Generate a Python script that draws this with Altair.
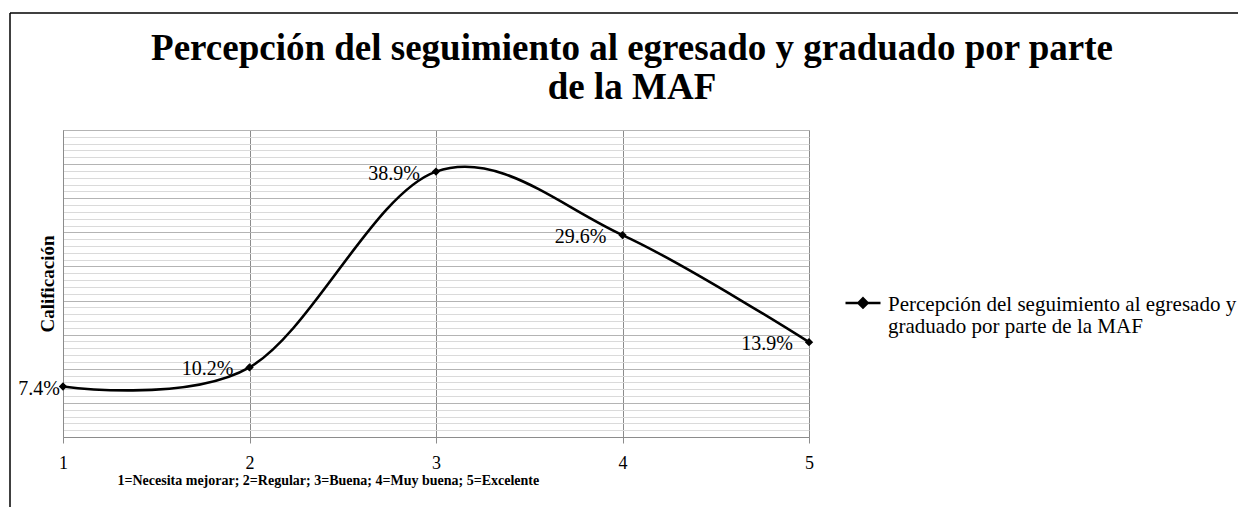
import json
import altair as alt
import pandas as pd

# ---- data ----
x_vals = [1, 2, 3, 4, 5]
y_vals = [7.4, 10.2, 38.9, 29.6, 13.9]
labels = ["7.4%", "10.2%", "38.9%", "29.6%", "13.9%"]
series_name = "Percepción del seguimiento al egresado y graduado por parte de la MAF"
legend_lines = ["Percepción del seguimiento al egresado y", "graduado por parte de la MAF"]
title_lines = ["Percepción del seguimiento al egresado y graduado por parte", "de la MAF"]
x_title = "1=Necesita mejorar;  2=Regular; 3=Buena; 4=Muy buena; 5=Excelente"
y_title = "Calificación"
y_grid = list(range(0, 46))

df = pd.DataFrame({"x": x_vals, "y": y_vals, "label": labels, "serie": [series_name] * len(x_vals)})

SERIF = "Liberation Serif"
W, H = 746, 307

xenc = alt.X(
    "x:Q",
    scale=alt.Scale(domain=[1, 5], nice=False, zero=False),
    axis=alt.Axis(
        values=x_vals, format="d", title=x_title, grid=True, gridColor="#8c8c8c", gridWidth=1,
        domainColor="#8c8c8c", tickColor="#8c8c8c", tickSize=6, labelFlush=False,
        labelFont=SERIF, labelFontSize=18, labelColor="#000000", labelPadding=11,
        titleFont=SERIF, titleFontSize=14, titleFontWeight="bold", titleColor="#000000",
        titleX=54, titleY=47, titleAlign="left", titleBaseline="alphabetic",
    ),
)
yenc = alt.Y(
    "y:Q",
    scale=alt.Scale(domain=[0, 45], nice=False, zero=True),
    axis=alt.Axis(
        values=y_grid, labels=False, ticks=False, grid=True,
        gridColor=alt.condition("datum.value % 5 === 0", alt.value("#b4b4b4"), alt.value("#dadada")),
        gridWidth=1, domainColor="#8c8c8c",
        title=y_title, titleFont=SERIF, titleFontSize=19, titleFontWeight="bold", titleColor="#000000",
        titleAngle=270, titleX=-10, titleY=H / 2, titleAlign="center", titleBaseline="alphabetic",
    ),
)

legend_expr = json.dumps(legend_lines, ensure_ascii=False)

base = alt.Chart(df).encode(x=xenc, y=yenc)

line = base.mark_line(interpolate="cardinal", strokeWidth=2.6).encode(
    color=alt.Color(
        "serie:N",
        scale=alt.Scale(range=["#000000"]),
        legend=alt.Legend(
            title=None, orient="none", legendX=781, legendY=162, padding=0,
            symbolType="M-1,-0.46L1,-0.46M0,-0.72L0.26,-0.46L0,-0.2L-0.26,-0.46Z",
            symbolSize=1225, symbolStrokeWidth=2.6,
            symbolFillColor="#000000", symbolStrokeColor="#000000",
            labelFont=SERIF, labelFontSize=21, labelColor="#000000", labelLimit=420,
            labelOffset=6, labelBaseline="alphabetic", labelExpr=legend_expr,
        ),
    ),
)

points = base.mark_point(shape="diamond", filled=True, size=70, color="#000000", opacity=1)

text_first = base.transform_filter("datum.x == 1").mark_text(
    align="right", baseline="middle", dx=-3, dy=2, font=SERIF, fontSize=20, color="#000000"
).encode(text="label:N")

text_rest = base.transform_filter("datum.x != 1").mark_text(
    align="right", baseline="middle", dx=-16, dy=2, font=SERIF, fontSize=20, color="#000000"
).encode(text="label:N")

frame_df = pd.DataFrame({"k": [0]})
frame_v = alt.Chart(frame_df).mark_rule(color="#000000", strokeWidth=1.5).encode(
    x=alt.value(-53), y=alt.value(-117), y2=alt.value(600)
)
frame_h = alt.Chart(frame_df).mark_rule(color="#000000", strokeWidth=1.5).encode(
    x=alt.value(-53), x2=alt.value(1400), y=alt.value(-117)
)

chart = alt.layer(line, points, text_first, text_rest, frame_v, frame_h).properties(
    width=W,
    height=H,
    title=alt.TitleParams(
        text=title_lines, font=SERIF, fontSize=37, fontWeight="bold", color="#000000",
        anchor="middle", dx=196, dy=99, lineHeight=39, frame="group",
    ),
    autosize=alt.AutoSizeParams(type="none"),
    padding={"left": 55, "top": 122, "right": 429, "bottom": 70},
).configure(
    background="#ffffff", style={"guide-label": {"lineHeight": 22}}
).configure_view(stroke="#b4b4b4")

chart.save("out.html", embed_options={"renderer": "svg", "actions": False})
